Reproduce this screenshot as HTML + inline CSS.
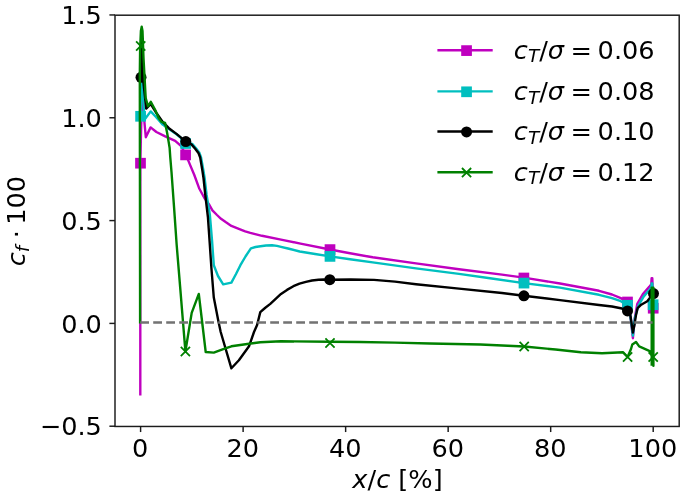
<!DOCTYPE html>
<html lang="en"><head><meta charset="utf-8"><title>Skin friction coefficient</title>
<style>html,body{margin:0;padding:0;background:#fff}svg{display:block}text{font-family:"DejaVu Sans","Liberation Sans",sans-serif;fill:#000}.i{font-style:italic}</style>
</head><body>
<svg width="685" height="498" viewBox="0 0 685 498">
<rect width="685" height="498" fill="#fff"/>
<defs><filter id="soft" x="0" y="0" width="100%" height="100%" filterUnits="userSpaceOnUse"><feGaussianBlur stdDeviation="0.6"/></filter><clipPath id="ax"><rect x="115.00" y="15.20" width="564.20" height="411.25"/></clipPath></defs>
<g filter="url(#soft)">
<g clip-path="url(#ax)">
<polyline points="140.3,395.5 140.3,163.2 141.8,99.0 143.5,112.0 145.8,137.2 150.6,127.4 156.4,132.0 165.2,136.4 175.2,140.8 181.5,146.4 185.6,154.9 188.3,160.6 194.3,175.0 199.1,188.2 204.4,198.0 208.9,204.2 212.4,210.3 217.0,215.0 221.0,218.8 226.0,222.3 231.4,225.9 240.7,229.6 245.2,231.3 250.3,232.8 262.0,235.8 281.0,239.6 300.5,243.6 330.0,249.5 350.0,253.2 372.7,257.3 416.0,263.4 459.0,269.3 502.0,274.6 523.8,277.6 560.0,283.5 599.0,290.8 612.0,294.5 620.8,298.1 627.5,302.0 630.0,312.0 632.9,338.2 634.8,318.0 637.3,303.8 642.9,294.1 649.2,286.9 651.3,284.2 651.6,278.2 652.3,278.2 652.5,284.0 653.2,308.3" fill="none" stroke="#bf00bf" stroke-width="2.40" stroke-linejoin="round" stroke-linecap="butt"/>
<rect x="135.15" y="157.85" width="10.70" height="10.70" fill="#bf00bf"/><rect x="180.25" y="149.55" width="10.70" height="10.70" fill="#bf00bf"/><rect x="324.65" y="244.25" width="10.70" height="10.70" fill="#bf00bf"/><rect x="518.55" y="272.65" width="10.70" height="10.70" fill="#bf00bf"/><rect x="622.15" y="296.65" width="10.70" height="10.70" fill="#bf00bf"/><rect x="647.85" y="302.85" width="10.70" height="10.70" fill="#bf00bf"/>
<polyline points="140.6,116.3 141.5,60.0 142.6,84.0 143.8,110.0 145.0,119.0 150.7,111.4 156.0,117.0 162.7,124.6 169.0,129.0 176.5,134.2 185.8,141.8 192.2,143.9 196.0,148.3 199.4,152.8 201.0,157.2 202.1,163.3 203.3,170.0 204.6,178.0 206.6,195.0 209.9,215.0 212.0,240.0 213.8,265.2 218.0,276.0 223.2,284.4 231.4,282.6 236.0,274.0 240.4,265.2 245.5,256.5 250.9,248.3 255.5,247.0 260.5,246.3 266.0,245.5 272.0,245.2 277.0,245.9 281.0,246.9 288.0,248.5 299.7,251.5 315.0,254.0 330.0,256.4 350.0,259.3 372.7,262.4 416.0,268.4 459.0,273.9 490.0,278.2 523.8,283.1 560.0,287.6 599.0,294.8 612.0,298.1 620.8,301.2 627.5,305.2 630.0,313.0 632.9,335.7 634.9,318.0 638.2,306.0 643.8,296.4 650.0,289.2 651.5,286.5 651.6,283.4 652.3,283.4 652.5,292.0 653.1,304.7" fill="none" stroke="#00bfbf" stroke-width="2.40" stroke-linejoin="round" stroke-linecap="butt"/>
<rect x="135.25" y="110.95" width="10.70" height="10.70" fill="#00bfbf"/><rect x="180.25" y="138.15" width="10.70" height="10.70" fill="#00bfbf"/><rect x="324.65" y="251.05" width="10.70" height="10.70" fill="#00bfbf"/><rect x="518.65" y="277.75" width="10.70" height="10.70" fill="#00bfbf"/><rect x="622.15" y="299.95" width="10.70" height="10.70" fill="#00bfbf"/><rect x="647.75" y="299.35" width="10.70" height="10.70" fill="#00bfbf"/>
<polyline points="141.0,77.3 141.4,40.0 143.2,80.0 146.2,108.6 150.8,104.0 156.4,113.0 162.7,121.9 168.9,128.2 176.5,133.9 185.8,141.6 191.4,144.4 195.2,148.8 198.6,153.3 200.2,157.5 201.2,163.5 202.3,170.0 203.5,178.0 205.3,195.0 207.9,217.0 209.7,243.0 211.4,268.0 213.8,297.6 218.2,320.2 220.7,332.0 231.4,368.3 238.9,360.2 249.0,346.3 254.0,332.0 257.1,325.0 260.3,312.1 265.0,308.0 270.3,303.9 281.0,293.9 287.0,289.9 293.4,286.2 299.5,283.6 305.9,281.8 312.0,280.5 318.5,279.7 324.0,279.5 329.8,279.7 350.8,279.5 374.0,279.9 395.0,281.6 416.0,284.2 459.0,288.6 502.0,293.0 523.8,295.8 560.0,300.1 599.0,305.0 612.0,306.5 620.8,308.2 627.5,310.9 630.5,316.0 632.9,332.6 634.4,325.0 635.9,315.6 637.6,308.2 641.2,304.7 647.3,301.2 650.0,297.6 652.2,294.4 653.5,293.6" fill="none" stroke="#000000" stroke-width="2.40" stroke-linejoin="round" stroke-linecap="butt"/>
<circle cx="141.00" cy="77.30" r="5.50" fill="#000000"/><circle cx="185.80" cy="141.60" r="5.50" fill="#000000"/><circle cx="329.80" cy="279.70" r="5.50" fill="#000000"/><circle cx="523.90" cy="295.80" r="5.50" fill="#000000"/><circle cx="627.50" cy="310.90" r="5.50" fill="#000000"/><circle cx="653.50" cy="293.60" r="5.50" fill="#000000"/>
<polyline points="140.1,323.4 139.8,75.0 140.1,50.0 140.9,31.0 141.7,26.8 142.5,31.0 143.2,50.0 143.5,58.0 145.7,98.0 148.0,106.2 150.8,101.8 155.1,109.8 158.9,118.4 161.4,121.9 165.1,122.9 167.2,133.3 168.6,141.6 169.6,147.7 170.3,157.7 171.5,172.0 174.1,207.9 176.6,244.0 180.4,290.2 185.4,351.5 191.7,312.9 198.8,293.9 202.5,325.0 205.7,352.0 213.8,352.6 223.9,348.9 231.4,346.3 249.0,343.8 260.3,342.3 281.0,341.3 330.0,341.8 360.0,342.0 395.0,342.6 430.0,343.5 480.3,344.5 524.2,346.5 555.6,349.5 580.8,352.3 602.0,353.3 622.9,352.2 627.6,357.0 631.0,349.0 632.3,344.5 636.0,342.0 639.2,346.4 649.2,350.8 652.3,355.0 653.2,357.0 653.4,365.8 653.4,287.6 651.7,287.6 651.7,365.8" fill="none" stroke="#008000" stroke-width="2.40" stroke-linejoin="round" stroke-linecap="butt"/>
<path d="M136.10 41.40L145.30 50.60M136.10 50.60L145.30 41.40" stroke="#008000" stroke-width="1.80" fill="none"/><path d="M180.80 346.90L190.00 356.10M180.80 356.10L190.00 346.90" stroke="#008000" stroke-width="1.80" fill="none"/><path d="M325.40 338.40L334.60 347.60M325.40 347.60L334.60 338.40" stroke="#008000" stroke-width="1.80" fill="none"/><path d="M519.60 341.90L528.80 351.10M519.60 351.10L528.80 341.90" stroke="#008000" stroke-width="1.80" fill="none"/><path d="M623.00 352.40L632.20 361.60M623.00 361.60L632.20 352.40" stroke="#008000" stroke-width="1.80" fill="none"/><path d="M648.60 352.40L657.80 361.60M648.60 361.60L657.80 352.40" stroke="#008000" stroke-width="1.80" fill="none"/>
<line x1="140.2" y1="322.5" x2="652.6" y2="322.5" stroke="#737373" stroke-width="2.45" stroke-dasharray="8.8 4.2"/>
</g>
<rect x="115.00" y="15.20" width="564.20" height="411.25" fill="none" stroke="#1a1a1a" stroke-width="1.45"/>
<line x1="140.60" y1="426.45" x2="140.60" y2="432.05" stroke="#1a1a1a" stroke-width="1.45"/>
<text x="140.20" y="456.60" font-size="25.60" text-anchor="middle">0</text>
<line x1="243.12" y1="426.45" x2="243.12" y2="432.05" stroke="#1a1a1a" stroke-width="1.45"/>
<text x="242.72" y="456.60" font-size="25.60" text-anchor="middle">20</text>
<line x1="345.64" y1="426.45" x2="345.64" y2="432.05" stroke="#1a1a1a" stroke-width="1.45"/>
<text x="345.24" y="456.60" font-size="25.60" text-anchor="middle">40</text>
<line x1="448.16" y1="426.45" x2="448.16" y2="432.05" stroke="#1a1a1a" stroke-width="1.45"/>
<text x="447.76" y="456.60" font-size="25.60" text-anchor="middle">60</text>
<line x1="550.68" y1="426.45" x2="550.68" y2="432.05" stroke="#1a1a1a" stroke-width="1.45"/>
<text x="550.28" y="456.60" font-size="25.60" text-anchor="middle">80</text>
<line x1="653.20" y1="426.45" x2="653.20" y2="432.05" stroke="#1a1a1a" stroke-width="1.45"/>
<text x="652.80" y="456.60" font-size="25.60" text-anchor="middle">100</text>
<line x1="109.40" y1="14.96" x2="115.00" y2="14.96" stroke="#1a1a1a" stroke-width="1.45"/>
<text x="101.90" y="24.16" font-size="25.60" text-anchor="end">1.5</text>
<line x1="109.40" y1="117.77" x2="115.00" y2="117.77" stroke="#1a1a1a" stroke-width="1.45"/>
<text x="101.90" y="126.97" font-size="25.60" text-anchor="end">1.0</text>
<line x1="109.40" y1="220.59" x2="115.00" y2="220.59" stroke="#1a1a1a" stroke-width="1.45"/>
<text x="101.90" y="229.79" font-size="25.60" text-anchor="end">0.5</text>
<line x1="109.40" y1="323.40" x2="115.00" y2="323.40" stroke="#1a1a1a" stroke-width="1.45"/>
<text x="101.90" y="332.60" font-size="25.60" text-anchor="end">0.0</text>
<line x1="109.40" y1="426.21" x2="115.00" y2="426.21" stroke="#1a1a1a" stroke-width="1.45"/>
<text x="101.90" y="435.41" font-size="25.60" text-anchor="end">−0.5</text>
<text x="397.5" y="488.3" font-size="25.60" text-anchor="middle"><tspan class="i">x</tspan>/<tspan class="i">c</tspan> [%]</text>
<text transform="translate(24.9 266.3) rotate(-90) scale(1 0.950)" font-size="25.60"><tspan class="i">c</tspan><tspan class="i" font-size="18.43" dy="3.9">f</tspan></text>
<text transform="translate(24.9 234.3) rotate(-90) scale(1 0.950)" font-size="25.60" text-anchor="middle">·</text>
<text transform="translate(24.9 224.8) rotate(-90) scale(1 0.950)" font-size="25.60">100</text>
<line x1="437.4" y1="50.20" x2="492.7" y2="50.20" stroke="#bf00bf" stroke-width="2.40"/>
<rect x="461.20" y="45.25" width="10.70" height="10.70" fill="#bf00bf"/>
<text x="513.8" y="58.50" font-size="25.60"><tspan class="i">c</tspan><tspan class="i" font-size="18.43" dy="3.9">T</tspan><tspan dy="-3.9">/</tspan><tspan class="i">σ</tspan></text>
<text x="570.4" y="58.50" font-size="25.60">=</text>
<text x="597.6" y="58.50" font-size="25.60">0.06</text>
<line x1="437.4" y1="91.40" x2="492.7" y2="91.40" stroke="#00bfbf" stroke-width="2.40"/>
<rect x="461.20" y="86.45" width="10.70" height="10.70" fill="#00bfbf"/>
<text x="513.8" y="99.70" font-size="25.60"><tspan class="i">c</tspan><tspan class="i" font-size="18.43" dy="3.9">T</tspan><tspan dy="-3.9">/</tspan><tspan class="i">σ</tspan></text>
<text x="570.4" y="99.70" font-size="25.60">=</text>
<text x="597.6" y="99.70" font-size="25.60">0.08</text>
<line x1="437.4" y1="131.50" x2="492.7" y2="131.50" stroke="#000000" stroke-width="2.40"/>
<circle cx="466.55" cy="131.90" r="5.50" fill="#000000"/>
<text x="513.8" y="139.80" font-size="25.60"><tspan class="i">c</tspan><tspan class="i" font-size="18.43" dy="3.9">T</tspan><tspan dy="-3.9">/</tspan><tspan class="i">σ</tspan></text>
<text x="570.4" y="139.80" font-size="25.60">=</text>
<text x="597.6" y="139.80" font-size="25.60">0.10</text>
<line x1="437.4" y1="172.20" x2="492.7" y2="172.20" stroke="#008000" stroke-width="2.40"/>
<path d="M461.95 168.00L471.15 177.20M461.95 177.20L471.15 168.00" stroke="#008000" stroke-width="1.80" fill="none"/>
<text x="513.8" y="180.50" font-size="25.60"><tspan class="i">c</tspan><tspan class="i" font-size="18.43" dy="3.9">T</tspan><tspan dy="-3.9">/</tspan><tspan class="i">σ</tspan></text>
<text x="570.4" y="180.50" font-size="25.60">=</text>
<text x="597.6" y="180.50" font-size="25.60">0.12</text>
</g>
</svg>
</body></html>
